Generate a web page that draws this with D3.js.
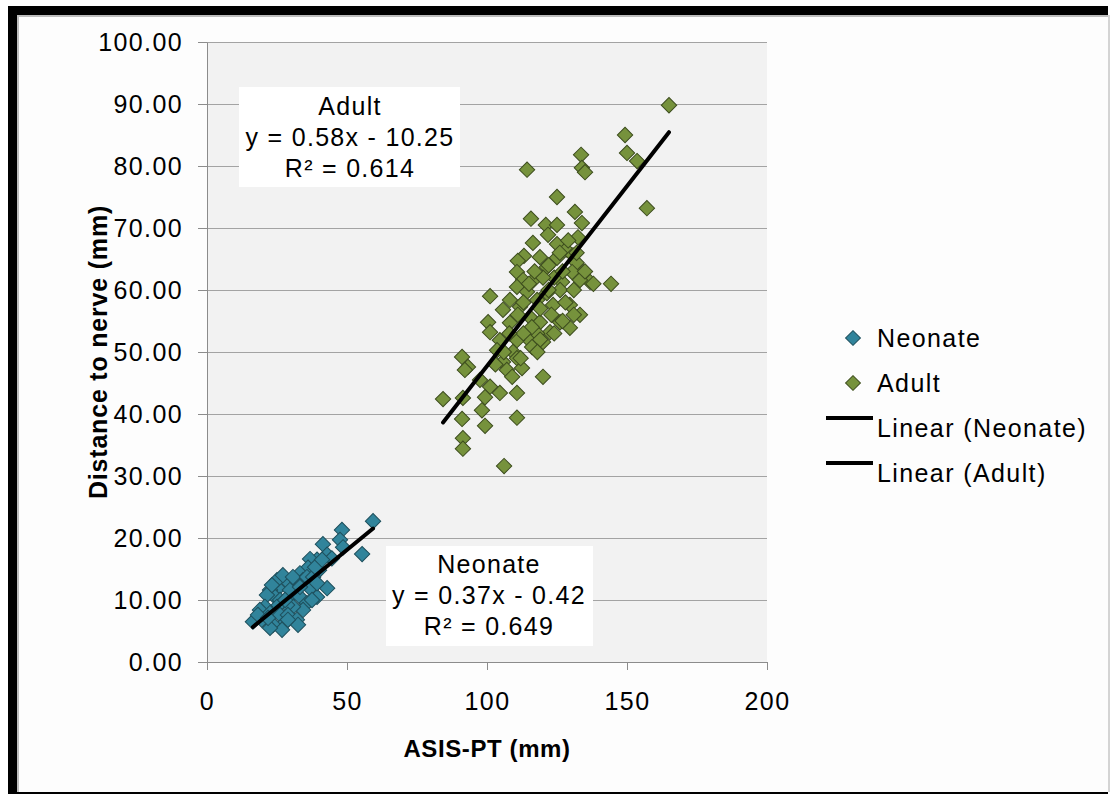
<!DOCTYPE html>
<html>
<head>
<meta charset="utf-8">
<script src="https://cdn.jsdelivr.net/npm/d3@7"></script>
<style>
body { margin: 0; background: #fff; }
text { font-family: "Liberation Sans", Arial, sans-serif; fill: #000; }
</style>
</head>
<body>
<div id="chart"></div>
<script>
// Data
var neonateAsis = [59.3, 48.2, 47.5, 48.6, 55.4, 41.4, 42.9, 44.6, 39.3, 36.8, 40.0, 36.1, 33.2, 42.9, 39.3,
    36.8, 34.3, 32.1, 28.9, 25.4, 22.5, 24.3, 21.4, 26.1, 29.6, 33.2, 35.7, 34.3, 30.7, 28.6, 25.0, 20.7,
    18.9, 22.5, 26.1, 28.9, 32.1, 32.5, 27.1, 23.6, 26.8, 22.5, 19.6, 16.4, 18.2, 21.8, 28.9, 25.0, 27.1,
    30.7, 35.7, 37.9, 38.6, 29.6, 27.9, 33.2, 23.2, 39.3, 41.1, 37.5];
var neonateDist = [22.7, 21.3, 19.7, 18.5, 17.4, 19.0, 17.3, 16.7, 16.5, 16.6, 14.8, 15.2, 14.3, 11.9, 10.5,
    11.9, 13.2, 12.7, 12.9, 11.9, 11.6, 10.5, 10.8, 10.0, 10.5, 10.5, 9.5, 8.4, 8.9, 9.2, 8.9, 8.9,
    8.4, 7.9, 7.6, 7.6, 6.8, 6.0, 6.0, 6.0, 5.2, 5.5, 6.8, 6.5, 7.6, 7.1, 6.8, 13.2, 14.0,
    13.7, 13.7, 13.7, 15.3, 11.6, 10.0, 12.1, 12.4, 12.7, 16.5, 10.0];

var adultAsis = [165.0, 149.3, 150.0, 153.6, 133.6, 133.9, 135.0, 114.3, 157.1, 125.0, 115.7, 121.0, 125.0,
    131.4, 133.9, 116.4, 125.0, 132.5, 121.8, 128.2, 113.2, 111.0, 118.9, 121.4, 125.0, 130.7, 132.0,
    110.7, 112.9, 116.4, 134.3, 136.8, 144.3, 130.4, 126.8, 133.2,
    101.1, 110.7, 114.3, 108.2, 105.7, 111.8, 117.9, 121.4, 126.1, 129.6, 123.6, 133.2, 100.4, 101.1,
    108.2, 115.4, 118.9, 126.1, 129.6, 122.5, 114.3, 117.9, 104.6, 110.7, 120.0, 116.1, 103.6, 109.3,
    91.1, 93.2, 92.1, 105.7, 110.7, 107.1, 112.5, 120.0, 97.5, 101.1, 104.6, 110.7, 99.3, 91.4, 84.3,
    98.2, 91.1, 99.3, 110.7, 91.4, 91.4, 106.1,
    119, 122, 124, 127, 128, 131, 116, 113, 119, 123, 126, 129, 132, 120, 117, 111, 108, 106, 113, 115,
    122, 135, 138, 131, 127, 124, 118, 112, 109, 103];
var adultDist = [89.8, 85.0, 82.1, 80.8, 81.8, 79.7, 79.0, 79.4, 73.2, 75.0, 71.5, 70.5, 70.5,
    72.6, 70.8, 67.6, 67.4, 68.5, 68.9, 66.5, 65.5, 64.7, 65.3, 63.7, 65.2, 65.6, 64.4,
    62.9, 61.6, 61.5, 62.9, 61.3, 61.0, 62.9, 61.3, 61.6,
    59.0, 60.5, 59.7, 58.4, 56.8, 57.3, 58.4, 59.5, 60.0, 57.6, 57.6, 56.0, 54.8, 53.2,
    54.7, 55.6, 54.8, 54.8, 53.9, 53.2, 52.3, 53.0, 51.9, 51.9, 51.6, 50.8, 50.3, 50.0,
    49.2, 47.6, 47.1, 48.4, 49.0, 47.1, 47.4, 46.0, 45.5, 44.4, 43.4, 43.4, 42.7, 42.6, 42.4,
    40.6, 39.2, 38.1, 39.4, 36.1, 34.4, 31.6,
    57, 60, 62, 63, 58, 60, 54, 53, 52, 56, 66, 68, 66, 62, 63, 56, 53, 50, 58, 61,
    64, 63, 61, 56, 55, 53, 50, 49, 46, 48];

var seriesNames = ["Neonate", "Adult"];
var seriesColors = ["#31849b", "#76923c"];
var seriesStrokes = ["#1e4f5c", "#3d4d1e"];
var trendSlopes = [0.37, 0.58];
var trendIntercepts = [-0.42, -10.25];
var trendR2 = ["0.649", "0.614"];
var xTicks = [0, 50, 100, 150, 200];
var yTicks = [0, 10, 20, 30, 40, 50, 60, 70, 80, 90, 100];
var legendLabels = ["Neonate", "Adult", "Linear (Neonate)", "Linear (Adult)"];

var svgWidth = 1110;
var svgHeight = 794;

var margin = {
    top: 42,
    bottom: 132,
    right: 343,
    left: 207
};

var width = svgWidth - margin.left - margin.right;
var height = svgHeight - margin.top - margin.bottom;

var svg = d3.select("#chart")
    .append("svg")
    .attr("width", svgWidth)
    .attr("height", svgHeight);

// picture frame (black shadow top/left)
svg.append("rect").attr("x", 8).attr("y", 6).attr("width", 1100).attr("height", 788).attr("fill", "#000");
svg.append("rect").attr("x", 17).attr("y", 15).attr("width", 1093).attr("height", 777).attr("fill", "#bdbdbd");
svg.append("rect").attr("x", 19).attr("y", 17).attr("width", 1089).attr("height", 775).attr("fill", "#fdfdfd");
svg.append("rect").attr("x", 1108).attr("y", 15).attr("width", 2).attr("height", 777).attr("fill", "#d4d4d4");

var chartGroup = svg.append("g")
    .attr("transform", `translate(${margin.left}, ${margin.top})`);

var xScale = d3.scaleLinear().domain([0, 200]).range([0, width]);
var yScale = d3.scaleLinear().domain([0, 100]).range([height, 0]);

// plot area
chartGroup.append("rect")
    .attr("width", width)
    .attr("height", height)
    .attr("fill", "#f2f2f2");

// gridlines
chartGroup.selectAll(".grid")
    .data(yTicks.slice(1))
    .enter()
    .append("line")
    .attr("x1", 0)
    .attr("x2", width)
    .attr("y1", d => Math.round(yScale(d)) + 0.5)
    .attr("y2", d => Math.round(yScale(d)) + 0.5)
    .attr("stroke", "#a3a3a3")
    .attr("stroke-width", 1);

// axes
var leftAxis = d3.axisLeft(yScale)
    .tickValues(yTicks)
    .tickFormat(d3.format(".2f"))
    .tickSize(9)
    .tickSizeOuter(0)
    .tickPadding(15);

var bottomAxis = d3.axisBottom(xScale)
    .tickValues(xTicks)
    .tickSize(8)
    .tickSizeOuter(0)
    .tickPadding(22);

var yAxisG = chartGroup.append("g").call(leftAxis);
var xAxisG = chartGroup.append("g")
    .attr("transform", `translate(0, ${height})`)
    .call(bottomAxis);

[yAxisG, xAxisG].forEach(function(g) {
    g.selectAll("path, line").attr("stroke", "#8c8c8c");
    g.selectAll("text")
        .style("font-family", "'Liberation Sans', Arial, sans-serif")
        .style("font-size", "25px")
        .style("letter-spacing", "1.4px")
        .attr("fill", "#000");
});

// points
var diamond = d3.symbol().type(d3.symbolSquare).size(118);

var series = [
    { x: neonateAsis, y: neonateDist },
    { x: adultAsis, y: adultDist }
];

series.forEach(function(s, i) {
    var pts = s.x.map((v, j) => [v, s.y[j]]);
    chartGroup.append("g")
        .selectAll("path")
        .data(pts)
        .enter()
        .append("path")
        .attr("d", diamond)
        .attr("transform", d => `translate(${xScale(d[0])}, ${yScale(d[1])}) rotate(45)`)
        .attr("fill", seriesColors[i])
        .attr("stroke", seriesStrokes[i])
        .attr("stroke-width", 1);
});

// trend lines
series.forEach(function(s, i) {
    var ext = d3.extent(s.x);
    chartGroup.append("line")
        .attr("x1", xScale(ext[0]))
        .attr("y1", yScale(trendSlopes[i] * ext[0] + trendIntercepts[i]))
        .attr("x2", xScale(ext[1]))
        .attr("y2", yScale(trendSlopes[i] * ext[1] + trendIntercepts[i]))
        .attr("stroke", "#000")
        .attr("stroke-width", 4)
        .attr("stroke-linecap", "round");
});

// equation labels
var labelBoxes = [
    { x: 386, y: 546, w: 207, h: 100, cx: 489, base: 573 },
    { x: 239, y: 87, w: 221, h: 100, cx: 350, base: 115 }
];

labelBoxes.forEach(function(b, i) {
    svg.append("rect")
        .attr("x", b.x).attr("y", b.y)
        .attr("width", b.w).attr("height", b.h)
        .attr("fill", "#fff");
    var sign = trendIntercepts[i] < 0 ? " - " : " + ";
    var lines = [
        seriesNames[i],
        "y = " + trendSlopes[i].toFixed(2) + "x" + sign + Math.abs(trendIntercepts[i]).toFixed(2),
        "R\u00b2 = " + trendR2[i]
    ];
    svg.append("g")
        .selectAll("text")
        .data(lines)
        .enter()
        .append("text")
        .attr("x", b.cx)
        .attr("y", (d, k) => b.base + k * 31)
        .attr("text-anchor", "middle")
        .style("font-size", "25px")
        .style("letter-spacing", "1.3px")
        .text(d => d);
});

// legend
var legend = svg.append("g");
legendLabels.forEach(function(lbl, i) {
    var yy = 338 + i * 45;
    if (i < 2) {
        legend.append("path")
            .attr("d", d3.symbol().type(d3.symbolSquare).size(110))
            .attr("transform", `translate(853, ${yy}) rotate(45)`)
            .attr("fill", seriesColors[i])
            .attr("stroke", seriesStrokes[i]);
    } else {
        legend.append("line")
            .attr("x1", 826).attr("x2", 873)
            .attr("y1", yy - 10).attr("y2", yy - 10)
            .attr("stroke", "#000")
            .attr("stroke-width", 4);
    }
    legend.append("text")
        .attr("x", 877)
        .attr("y", yy + 9)
        .style("font-size", "25px")
        .style("letter-spacing", "1.4px")
        .text(lbl);
});

// axis titles
svg.append("text")
    .attr("x", 487)
    .attr("y", 757)
    .attr("text-anchor", "middle")
    .style("font-size", "24px")
    .style("font-weight", "bold")
    .style("letter-spacing", "0.6px")
    .text("ASIS-PT (mm)");

svg.append("text")
    .attr("transform", "translate(107, 352) rotate(-90)")
    .attr("text-anchor", "middle")
    .style("font-size", "25px")
    .style("font-weight", "bold")
    .style("letter-spacing", "0.8px")
    .text("Distance to nerve (mm)");
</script>
</body>
</html>
